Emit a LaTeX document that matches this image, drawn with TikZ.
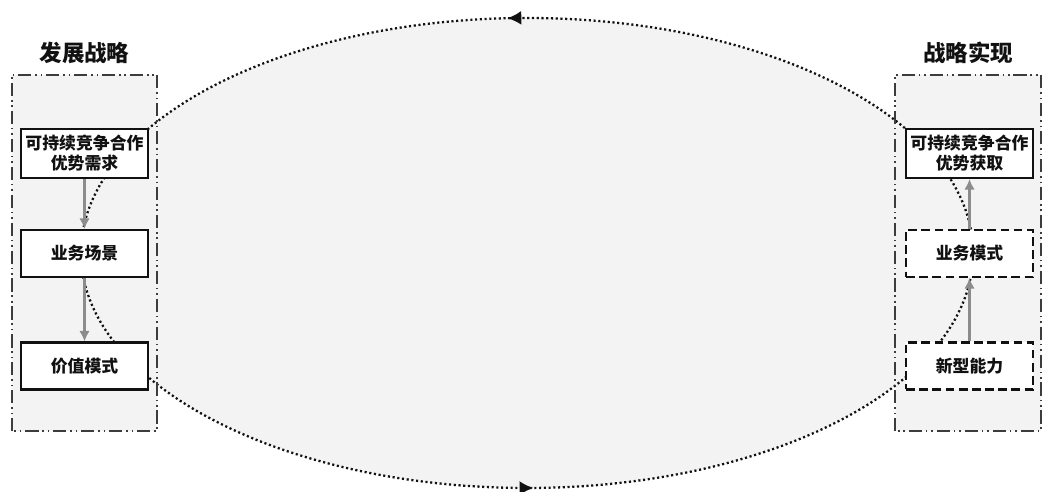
\documentclass[tikz,border=0pt]{standalone}
\usepackage{fontspec}
\setmainfont{Noto Sans CJK SC}
\usetikzlibrary{arrows.meta, positioning, decorations.markings}
\definecolor{Ink}{HTML}{111111}
\definecolor{Frame}{HTML}{3C3C3C}
\definecolor{Flow}{HTML}{8C8C8C}
\definecolor{Shade}{HTML}{F3F3F3}

\begin{document}
\begin{tikzpicture}[
  x=0.02cm, y=0.02cm,
  font=\bfseries,
  lane/.style={fill=Shade, minimum width=2.9cm, minimum height=7.12cm, inner sep=0pt},
  laneframe/.style={draw=Frame, line width=1pt, dash pattern=on 7.5pt off 2.2pt on 0.9pt off 2.2pt on 0.9pt off 2.2pt},
  heading/.style={font=\bfseries\fontsize{12.8pt}{15pt}\selectfont, text=Ink, inner sep=1pt},
  box/.style={draw=Ink, line width=1.2pt, fill=white, align=center, text=Ink, minimum width=2.54cm, minimum height=0.94cm, inner sep=0pt, font=\bfseries\fontsize{9.6pt}{11.3pt}\selectfont},
  pending/.style={box, dash pattern=on 5pt off 2.5pt},
  flow/.style={-{Latex[length=6pt, width=6pt]}, draw=Flow, line width=1.5pt},
  loopline/.style={draw=Ink, fill=Shade, line width=1.3pt, dash pattern=on 1.2pt off 1.5pt}
]
\useasboundingbox (0,0) rectangle (1044,492);

% two lanes
\node[lane] (left) at (84.5,239) {};
\node[lane] (right) at (968,239) {};

% the loop between them
\draw[loopline, postaction={decorate}, decoration={markings,
    mark=at position 0.259 with {\arrow{Latex[length=8pt, width=8pt]}},
    mark=at position 0.753 with {\arrow{Latex[length=8pt, width=8pt]}}}]
  (527,239) ellipse [x radius=446, y radius=235];

\draw[laneframe] (left.south west) rectangle (left.north east);
\draw[laneframe] (right.south west) rectangle (right.north east);

\node[heading, above=5pt of left] (lefttitle) {发展战略};
\node[heading, above=5pt of right] (righttitle) {战略实现};

\node[box, minimum height=0.98cm] (need) at (84.5,338.5) {可持续竞争合作\\优势需求};
\node[box] (scene) at (84.5,238.5) {业务场景};
\node[box] (value) at (84.5,126) {价值模式};

\node[box, minimum height=0.98cm] (gain) at (969.5,338.5) {可持续竞争合作\\优势获取};
\node[pending] (model) at (969.5,238.5) {业务模式};
\node[pending] (ability) at (969.5,126) {新型能力};

\draw[flow] (need) -- (scene);
\draw[flow] (scene) -- (value);
\draw[flow] (ability) -- (model);
\draw[flow] (model) -- (gain);
\end{tikzpicture}
\end{document}
